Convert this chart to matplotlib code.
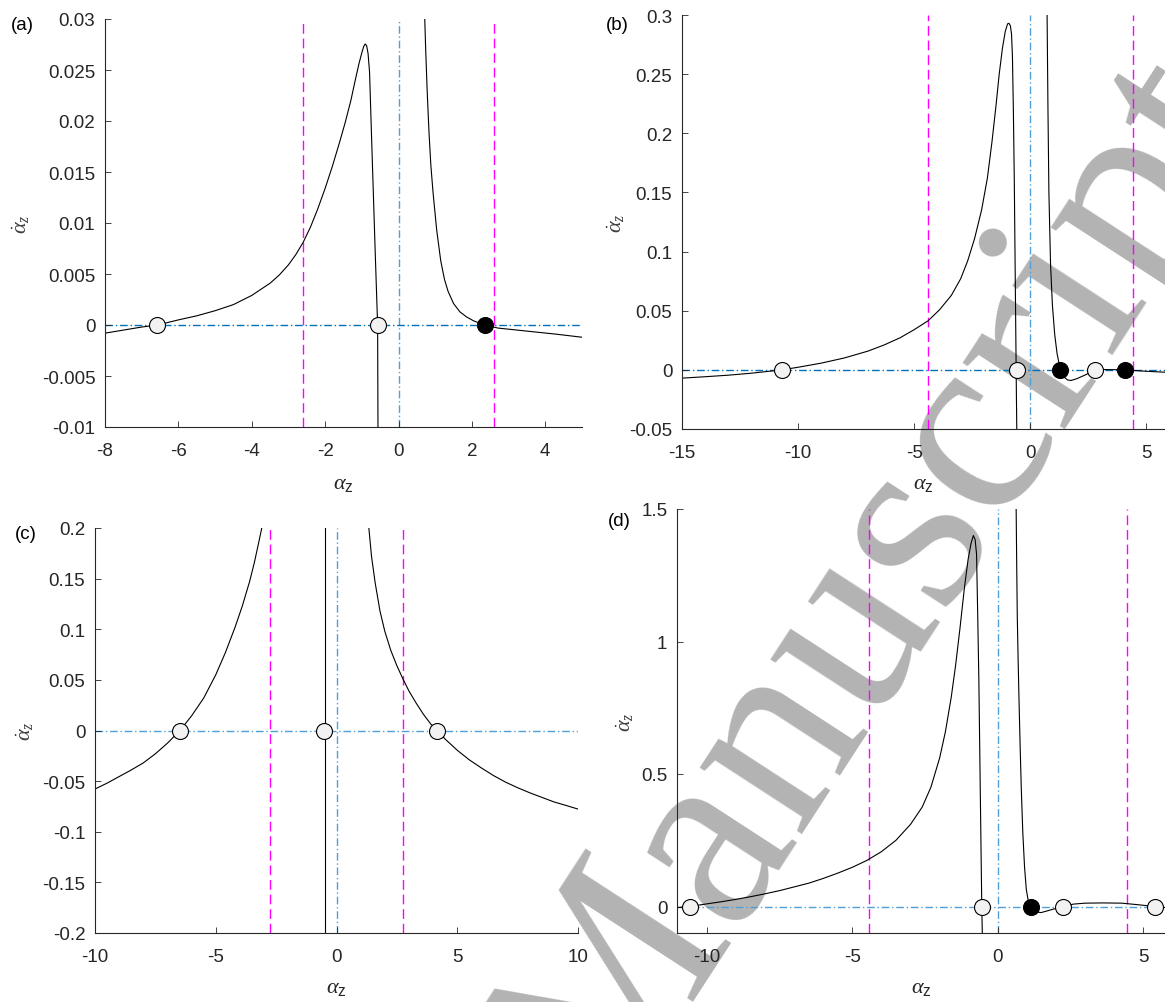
import matplotlib
matplotlib.use('Agg')
import matplotlib.pyplot as plt

plt.rcParams['font.family'] = ['Liberation Sans', 'DejaVu Sans']
plt.rcParams['mathtext.fontset'] = 'custom'
plt.rcParams['mathtext.it'] = 'Liberation Serif:italic'
plt.rcParams['mathtext.rm'] = 'Liberation Sans'
plt.rcParams['mathtext.sf'] = 'Liberation Sans'

# ---------------- data ----------------
# panel (a)
a_b1_x = [-8.0, -7.5, -7.0, -6.57, -6.0, -5.5, -5.0, -4.5, -4.0, -3.5, -3.25, -3.0, -2.8, -2.6, -2.4,
          -2.2, -2.0, -1.8, -1.6, -1.45, -1.3, -1.18, -1.08, -1.0, -0.95, -0.91, -0.87, -0.83, -0.79,
          -0.74, -0.69, -0.63, -0.57, -0.56]
a_b1_y = [-0.0008, -0.0005, -0.0002, 0.0, 0.0005, 0.0009, 0.0014, 0.002, 0.0029, 0.0041, 0.0049,
          0.0059, 0.0069, 0.0081, 0.0096, 0.0114, 0.0134, 0.0156, 0.018, 0.0199, 0.022, 0.024,
          0.0256, 0.0267, 0.0273, 0.02755, 0.0274, 0.0266, 0.0248, 0.019, 0.0133, 0.0065, 0.0,
          -0.0105]
a_b2_x = [0.71, 0.74, 0.78, 0.83, 0.88, 0.94, 1.04, 1.15, 1.25, 1.35, 1.5, 1.67, 1.85, 2.05, 2.35,
          2.71, 3.5, 4.3, 5.0]
a_b2_y = [0.0305, 0.027, 0.023, 0.0189, 0.0157, 0.013, 0.0093, 0.0063, 0.0045, 0.0033, 0.0021,
          0.0013, 0.0008, 0.0004, 0.0, -0.0003, -0.0006, -0.0009, -0.0012]
a_open_x = [-6.57, -0.57]
a_fill_x = [2.35]
a_magenta = [-2.6, 2.6]
a_xticks = [-8, -6, -4, -2, 0, 2, 4]
a_yticks = [-0.01, -0.005, 0, 0.005, 0.01, 0.015, 0.02, 0.025, 0.03]
a_yticklabels = ['-0.01', '-0.005', '0', '0.005', '0.01', '0.015', '0.02', '0.025', '0.03']

# panel (b)
b_b1_x = [-15.0, -14.0, -13.0, -12.0, -11.3, -10.7, -10.0, -9.0, -8.0, -7.0, -6.3, -5.6, -5.0, -4.4,
          -3.9, -3.4, -3.0, -2.7, -2.4, -2.1, -1.85, -1.65, -1.48, -1.34, -1.2, -1.08, -0.98, -0.92,
          -0.86, -0.81, -0.77, -0.73, -0.69, -0.65, -0.62, -0.6, -0.58]
b_b1_y = [-0.007, -0.0058, -0.0045, -0.0028, -0.0013, 0.0, 0.0022, 0.0057, 0.0101, 0.0158, 0.021,
          0.0272, 0.034, 0.0415, 0.051, 0.063, 0.077, 0.092, 0.111, 0.135, 0.162, 0.193, 0.223,
          0.25, 0.272, 0.286, 0.2925, 0.293, 0.291, 0.284, 0.265, 0.22, 0.16, 0.08, 0.02, -0.02,
          -0.055]
b_b2_x = [0.72, 0.76, 0.8, 0.87, 0.95, 1.05, 1.15, 1.29, 1.45, 1.6, 1.75, 2.0, 2.4, 2.78, 3.1, 3.47,
          4.07, 4.5, 5.0, 5.8]
b_b2_y = [0.305, 0.22, 0.15, 0.09, 0.055, 0.03, 0.014, 0.0, -0.006, -0.0085, -0.009, -0.0075,
          -0.004, 0.0, 0.0003, 0.0002, 0.0, -0.0006, -0.0012, -0.002]
b_open_x = [-10.7, -0.57, 2.77]
b_fill_x = [1.29, 4.06]
b_magenta = [-4.4, 4.42]
b_xticks = [-15, -10, -5, 0, 5]
b_yticks = [-0.05, 0, 0.05, 0.1, 0.15, 0.2, 0.25, 0.3]
b_yticklabels = ['-0.05', '0', '0.05', '0.1', '0.15', '0.2', '0.25', '0.3']

# panel (c)
c_b1_x = [-10.0, -9.5, -9.0, -8.5, -8.0, -7.5, -7.0, -6.48, -6.0, -5.5, -5.0, -4.6, -4.2, -3.9, -3.6,
          -3.4, -3.2, -3.05]
c_b1_y = [-0.0578, -0.052, -0.0455, -0.039, -0.032, -0.023, -0.0125, 0.0, 0.0145, 0.032, 0.055,
          0.077, 0.102, 0.123, 0.147, 0.166, 0.188, 0.205]
c_b2_x = [-0.47, -0.47]
c_b2_y = [-0.2, 0.2]
c_b3_x = [1.32, 1.45, 1.6, 1.8, 2.0, 2.25, 2.5, 2.75, 3.0, 3.3, 3.6, 3.9, 4.16, 4.5, 5.0, 5.5, 6.0,
          6.5, 7.0, 7.5, 8.0, 8.5, 9.0, 9.5, 10.0]
c_b3_y = [0.205, 0.172, 0.146, 0.118, 0.098, 0.079, 0.064, 0.051, 0.039, 0.027, 0.016, 0.0065, 0.0,
          -0.0085, -0.0195, -0.029, -0.037, -0.0445, -0.051, -0.0565, -0.0615, -0.066, -0.0705,
          -0.074, -0.0776]
c_open_x = [-6.48, -0.5, 4.16]
c_fill_x = []
c_magenta = [-2.75, 2.77]
c_xticks = [-10, -5, 0, 5, 10]
c_yticks = [-0.2, -0.15, -0.1, -0.05, 0, 0.05, 0.1, 0.15, 0.2]
c_yticklabels = ['-0.2', '-0.15', '-0.1', '-0.05', '0', '0.05', '0.1', '0.15', '0.2']

# panel (d)
d_b1_x = [-11.03, -10.58, -10.0, -9.5, -9.0, -8.5, -8.0, -7.5, -7.0, -6.5, -6.0, -5.5, -5.0, -4.5,
          -4.0, -3.5, -3.0, -2.6, -2.3, -2.0, -1.8, -1.6, -1.45, -1.3, -1.15, -1.02, -0.92, -0.84,
          -0.78, -0.73, -0.69, -0.65, -0.6, -0.55, -0.53]
d_b1_y = [-0.004, 0.0, 0.01, 0.018, 0.027, 0.037, 0.048, 0.06, 0.074, 0.088, 0.106, 0.126, 0.148,
          0.174, 0.207, 0.25, 0.31, 0.375, 0.45, 0.56, 0.66, 0.79, 0.91, 1.05, 1.2, 1.31, 1.37, 1.40,
          1.385, 1.33, 1.1, 0.85, 0.42, 0.0, -0.11]
d_b2_x = [0.63, 0.65, 0.67, 0.7, 0.73, 0.77, 0.81, 0.86, 0.92, 0.98, 1.05, 1.15, 1.3, 1.49, 1.75,
          2.0, 2.25, 2.6, 3.0, 3.6, 4.26, 4.8, 5.39, 5.75]
d_b2_y = [1.52, 1.3, 1.1, 0.93, 0.78, 0.6, 0.44, 0.28, 0.15, 0.065, 0.02, -0.008, -0.02, -0.023,
          -0.015, -0.007, 0.0, 0.009, 0.0126, 0.0135, 0.0126, 0.007, 0.0, -0.004]
d_open_x = [-10.58, -0.55, 2.25, 5.39]
d_fill_x = [1.15]
d_magenta = [-4.42, 4.43]
d_xticks = [-10, -5, 0, 5]
d_yticks = [0, 0.5, 1, 1.5]
d_yticklabels = ['0', '0.5', '1', '1.5']

watermark_text = 'Manuscript'

# ---------------- figure ----------------
W, H = 1165, 1003
fig = plt.figure(figsize=(W / 100, H / 100), dpi=100)

AX_COL = '#262626'
BLUE_H = '#0072BD'
BLUE_V = '#4f9fd8'
MAG = '#ff00ff'
OPEN_FC = '#f2f2f2'


def make_axes(l, r, t, b):
    ax = fig.add_axes([l / W, 1 - b / H, (r - l) / W, (b - t) / H])
    ax.set_facecolor('none')
    for s in ('top', 'right'):
        ax.spines[s].set_visible(False)
    for s in ('left', 'bottom'):
        ax.spines[s].set_color(AX_COL)
        ax.spines[s].set_linewidth(0.8)
    ax.tick_params(direction='in', length=4, width=0.6, colors=AX_COL,
                   labelsize=13.5, labelcolor=AX_COL)
    ax.tick_params(axis='y', pad=7)
    ax.tick_params(axis='x', pad=11)
    return ax


panels = [
    dict(box=(105, 582, 20, 428), xlim=(-8, 5), ylim=(-0.01, 0.03),
         branches=[(a_b1_x, a_b1_y), (a_b2_x, a_b2_y)], open_x=a_open_x, fill_x=a_fill_x,
         mag=a_magenta, xticks=a_xticks, yticks=a_yticks, yticklabels=a_yticklabels,
         letter='(a)', letter_pos=(11, 25), ylab_x=21, xlab_y=484, hcol=BLUE_H),
    dict(box=(682, 1165, 16, 430), xlim=(-15, 5.8), ylim=(-0.05, 0.3),
         branches=[(b_b1_x, b_b1_y), (b_b2_x, b_b2_y)], open_x=b_open_x, fill_x=b_fill_x,
         mag=b_magenta, xticks=b_xticks, yticks=b_yticks, yticklabels=b_yticklabels,
         letter='(b)', letter_pos=(606, 25), ylab_x=616, xlab_y=484, hcol=BLUE_H),
    dict(box=(95, 578, 529, 934), xlim=(-10, 10), ylim=(-0.2, 0.2),
         branches=[(c_b1_x, c_b1_y), (c_b2_x, c_b2_y), (c_b3_x, c_b3_y)], open_x=c_open_x,
         fill_x=c_fill_x, mag=c_magenta, xticks=c_xticks, yticks=c_yticks,
         yticklabels=c_yticklabels, letter='(c)', letter_pos=(15, 535), ylab_x=25, xlab_y=988,
         hcol=BLUE_V),
    dict(box=(677, 1165, 510, 934), xlim=(-11.03, 5.75), ylim=(-0.1, 1.5),
         branches=[(d_b1_x, d_b1_y), (d_b2_x, d_b2_y)], open_x=d_open_x, fill_x=d_fill_x,
         mag=d_magenta, xticks=d_xticks, yticks=d_yticks, yticklabels=d_yticklabels,
         letter='(d)', letter_pos=(608, 521), ylab_x=625, xlab_y=988, hcol=BLUE_V),
]

for p in panels:
    l, r, t, b = p['box']
    ax = make_axes(l, r, t, b)
    ax.set_xlim(*p['xlim'])
    ax.set_ylim(*p['ylim'])
    # reference lines
    for xm in p['mag']:
        ax.axvline(xm, color=MAG, lw=1.0, dashes=(7, 3.5), zorder=1)
    ax.axvline(0, color=BLUE_V, lw=1.0, dashes=(5.5, 2, 1, 2), zorder=1)
    ax.axhline(0, color=p['hcol'], lw=1.0, dashes=(5.5, 2, 1, 2), zorder=1)
    # curves
    for bx, by in p['branches']:
        ax.plot(bx, by, color='black', lw=0.8, zorder=2)
    # equilibria
    ax.plot(p['open_x'], [0] * len(p['open_x']), 'o', ms=11.5, mfc=OPEN_FC, mec='black',
            mew=0.8, zorder=3, clip_on=False)
    if p['fill_x']:
        ax.plot(p['fill_x'], [0] * len(p['fill_x']), 'o', ms=11.5, mfc='black', mec='black',
                mew=0.8, zorder=3, clip_on=False)
    ax.set_xticks(p['xticks'])
    ax.set_xticklabels([str(v) for v in p['xticks']])
    ax.set_yticks(p['yticks'])
    ax.set_yticklabels(p['yticklabels'])
    # labels
    ax.set_xlabel(r'$\alpha_{\mathsf{z}}$', fontsize=16, color=AX_COL, va='center')
    ax.xaxis.set_label_coords(0.5, (b - p['xlab_y']) / (b - t))
    ax.set_ylabel(r'$\dot{\alpha}_z$', fontsize=16, color='#404040', va='center')
    ax.yaxis.set_label_coords((p['ylab_x'] - l) / (r - l), 0.5)
    fig.text(p['letter_pos'][0] / W, 1 - p['letter_pos'][1] / H, p['letter'], fontsize=13.5,
             color='black', ha='left', va='center')

# watermark (behind everything)
fig.text(879 / W, 1 - 588 / H, watermark_text, rotation=57, rotation_mode='anchor',
         fontsize=190, family='Liberation Serif', color='#b3b3b3', ha='center', va='center',
         zorder=-5)

fig.savefig('out.png', dpi=100)
